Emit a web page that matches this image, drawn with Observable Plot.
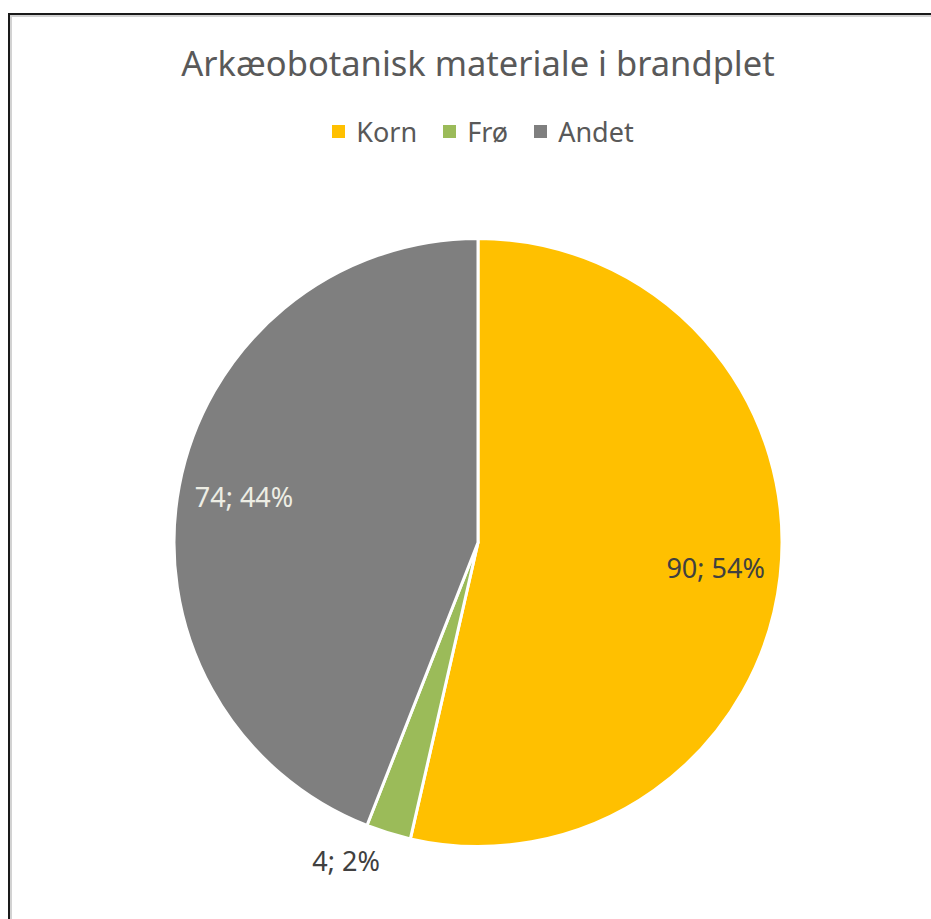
<!DOCTYPE html>
<html>
<head>
<meta charset="utf-8">
<script src="https://cdn.jsdelivr.net/npm/d3@7"></script>
<script src="https://cdn.jsdelivr.net/npm/@observablehq/plot@0.6"></script>
<style>
  html, body { margin: 0; padding: 0; width: 931px; height: 919px; overflow: hidden; background: #fff; }
  body { position: relative; font-family: "Noto Sans", "Open Sans", sans-serif; }
  #frame { position: absolute; left: 8px; top: 13px; width: 1000px; height: 1000px;
    border-left: 2px solid #1a1a1a; border-top: 2px solid #1a1a1a; box-shadow: inset 2px 2px 0 #d2d2d2; }
  #title { position: absolute; left: 0; width: 956px; top: 39px; text-align: center;
    font-size: 34.5px; color: #595959; white-space: nowrap; }
  #legend { position: absolute; left: 0; width: 966px; top: 113px; display: flex; justify-content: center;
    font-size: 27px; color: #595959; }
  .item { display: flex; align-items: center; margin: 0 13px; }
  .sw { width: 13px; height: 13px; margin-right: 11px; }
  #chart { position: absolute; left: 0; top: 160px; }
</style>
</head>
<body>
<div id="frame"></div>
<div id="title">Arkæobotanisk materiale i brandplet</div>
<div id="legend"></div>
<div id="chart"></div>
<script>
const categories = ["Korn", "Frø", "Andet"];
const values = [90, 4, 74];
const colors = ["#FFC000", "#9BBB59", "#7F7F7F"];
const labelColors = ["#404040", "#404040", "#EDEDE4"];
const labelOutside = [false, true, false];

const W = 931, H = 759;
const R = 304;            // pie radius in px
const cx = 478, cy = 382.5; // pie centre in svg px

const total = d3.sum(values);
const data = categories.map((c, i) => ({
  category: c, value: values[i], color: colors[i],
  labelColor: labelColors[i], outside: labelOutside[i],
  text: `${values[i]}; ${Math.round(values[i] / total * 100)}%`
}));
const arcs = d3.pie().sort(null).value(d => d.value)(data);
arcs.forEach(a => {
  const mid = (a.startAngle + a.endAngle) / 2;
  const r = a.data.outside ? 1.10 : 0.785;
  a.data.lx = r * Math.sin(mid);
  a.data.ly = r * Math.cos(mid);
});

// legend
const legend = document.getElementById("legend");
data.forEach(d => {
  const it = document.createElement("div");
  it.className = "item";
  it.innerHTML = `<span class="sw" style="background:${d.color}"></span><span>${d.category}</span>`;
  legend.appendChild(it);
});

function pieMark(index, scales, values, dimensions) {
  const ox = scales.x(0), oy = scales.y(0);
  const rad = scales.x(1) - scales.x(0);
  const arc = d3.arc().innerRadius(0).outerRadius(rad);
  const g = d3.create("svg:g").attr("transform", `translate(${ox},${oy})`);
  g.selectAll("path").data(arcs).join("path")
    .attr("d", arc)
    .attr("fill", d => d.data.color)
    .attr("stroke", "#fff")
    .attr("stroke-width", 3)
    .attr("stroke-linejoin", "round");
  return g.node();
}

const plot = Plot.plot({
  width: W, height: H,
  margin: 0,
  x: {domain: [-cx / R, (W - cx) / R], range: [0, W], axis: null},
  y: {domain: [-(H - cy) / R, cy / R], range: [H, 0], axis: null},
  marks: [
    pieMark,
    Plot.text(data.filter(d => !d.outside), {
      x: "lx", y: "ly", text: "text", fill: "labelColor",
      fontSize: 27, fontFamily: "Noto Sans", textAnchor: "middle"
    }),
    Plot.text(data.filter(d => d.outside), {
      x: "lx", y: "ly", text: "text", fill: "labelColor",
      fontSize: 27, fontFamily: "Noto Sans", textAnchor: "end"
    })
  ]
});
document.getElementById("chart").appendChild(plot);
</script>
</body>
</html>
